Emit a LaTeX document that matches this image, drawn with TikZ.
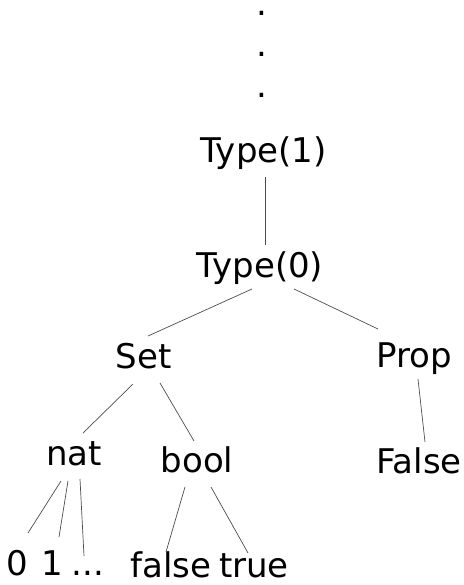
\documentclass[tikz,border=0pt]{standalone}
\usepackage{fontspec}
\setmainfont{DejaVu Sans}
\begin{document}
\begin{tikzpicture}[x=1pt,y=-1pt,
  lbl/.style={anchor=base,inner sep=0pt,font=\fontsize{34}{40}\selectfont},
  edge/.style={draw=black!70,line width=0.7pt}]
\useasboundingbox (0,0) rectangle (463,585);
% vertical dots above the hierarchy
\node[lbl] (d1) at (262,16) {.};
\node[lbl] (d2) at (262,57) {.};
\node[lbl] (d3) at (262,98) {.};
% universe levels
\node[lbl] (t1) at (263.5,163) {Type(1)};
\node[lbl] (t0) at (260,277) {Type(0)};
% sorts
\node[lbl] (set) at (143.5,368) {Set};
\node[lbl] (prop) at (414,367) {Prop};
% types
\node[lbl] (nat) at (74,465) {nat};
\node[lbl] (bool) at (197,472) {bool};
\node[lbl] (False) at (419,473) {False};
% terms
\node[lbl] (zero) at (17.5,575) {0};
\node[lbl] (one) at (52.5,575) {1};
\node[lbl] (more) at (88,575) {...};
\node[lbl] (ff) at (171,577) {false};
\node[lbl] (tt) at (254,577) {true};
% connectors
\draw[edge] ([shift={(1.5,14)}]t1.base) -- ([shift={(5,-32)}]t0.base);
\draw[edge] ([shift={(-8,12)}]t0.base) -- ([shift={(4.5,-32)}]set.base);
\draw[edge] ([shift={(34,12)}]t0.base) -- ([shift={(-36,-38)}]prop.base);
\draw[edge] ([shift={(-10.5,16)}]set.base) -- ([shift={(9,-32)}]nat.base);
\draw[edge] ([shift={(16.5,15)}]set.base) -- ([shift={(-3,-31)}]bool.base);
\draw[edge] ([shift={(4,12)}]prop.base) -- ([shift={(6,-31)}]False.base);
\draw[edge] ([shift={(-13,16)}]nat.base) -- ([shift={(10.5,-42)}]zero.base);
\draw[edge] ([shift={(-6,16)}]nat.base) -- ([shift={(6.5,-38)}]one.base);
\draw[edge] ([shift={(6,14)}]nat.base) -- ([shift={(-4,-19)}]more.base);
\draw[edge] ([shift={(-12,15)}]bool.base) -- ([shift={(-5,-25)}]ff.base);
\draw[edge] ([shift={(14,15)}]bool.base) -- ([shift={(-6,-24)}]tt.base);
\end{tikzpicture}
\end{document}
